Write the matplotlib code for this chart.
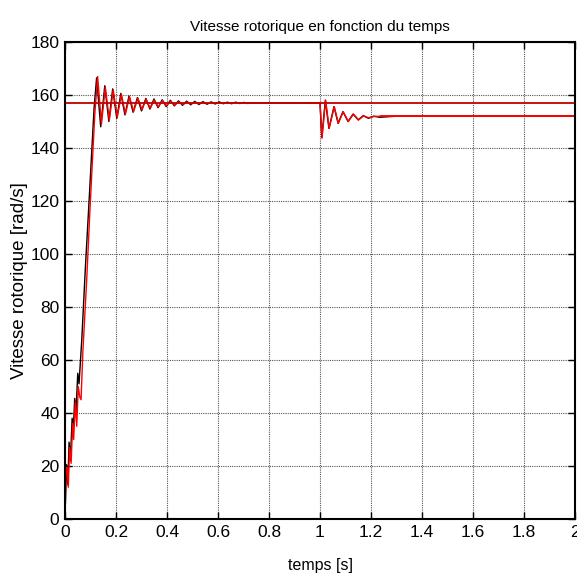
import matplotlib
matplotlib.use('Agg')
import numpy as np
import matplotlib.pyplot as plt

# speed reference and load-step plateau
w_ref = 157.0
w_load = 152.0

# measured rotor speed (black), read peak by peak from the plot
t_black = [0.000, 0.006, 0.011, 0.016, 0.021, 0.028, 0.032, 0.038, 0.043, 0.050, 0.055,
           0.066, 0.080, 0.095, 0.105, 0.114, 0.124, 0.140, 0.156, 0.172, 0.187, 0.203,
           0.219, 0.235, 0.251, 0.267, 0.284, 0.300, 0.317, 0.333, 0.349, 0.365, 0.381,
           0.397, 0.413, 0.429, 0.445, 0.461, 0.477, 0.493, 0.509, 0.525, 0.541, 0.557,
           0.573, 0.589, 0.605, 0.621, 0.637, 0.653, 0.669, 0.685, 0.701, 0.717, 0.733,
           0.750, 0.850, 1.000, 1.007, 1.021, 1.035, 1.055, 1.071, 1.090, 1.110, 1.130,
           1.150, 1.170, 1.190, 1.210, 1.235, 1.300, 2.000]
w_black = [1.0, 20.5, 13.0, 29.0, 22.0, 38.0, 32.0, 45.5, 40.0, 55.0, 51.0,
           68.0, 95.0, 121.0, 139.0, 155.0, 166.5, 148.0, 163.5, 150.0, 162.3, 151.2,
           160.6, 152.5, 159.6, 153.5, 159.0, 154.0, 158.7, 154.7, 158.5, 155.2, 158.2,
           155.6, 158.0, 155.9, 157.8, 156.1, 157.7, 156.3, 157.6, 156.4, 157.5, 156.5,
           157.4, 156.6, 157.4, 156.7, 157.3, 156.7, 157.3, 156.8, 157.2, 156.8, 157.1,
           157.0, 157.0, 157.0, 144.0, 158.0, 147.4, 155.6, 149.3, 153.7, 150.0, 152.8,
           150.6, 152.2, 151.2, 152.0, 151.6, 152.0, 152.0]

# estimated rotor speed (red)
t_red = [0.000, 0.004, 0.008, 0.013, 0.018, 0.024, 0.030, 0.034, 0.040, 0.046, 0.052,
         0.058, 0.063, 0.070, 0.085, 0.098, 0.108, 0.117, 0.128, 0.143, 0.158, 0.174,
         0.189, 0.205, 0.221, 0.237, 0.253, 0.269, 0.286, 0.302, 0.318, 0.334, 0.350,
         0.366, 0.382, 0.398, 0.414, 0.430, 0.446, 0.462, 0.478, 0.494, 0.510, 0.526,
         0.542, 0.558, 0.574, 0.590, 0.606, 0.622, 0.640, 0.700, 1.000, 1.008, 1.022,
         1.036, 1.056, 1.072, 1.091, 1.111, 1.131, 1.151, 1.171, 1.191, 1.211, 1.240,
         2.000]
w_red = [0.0, 18.0, 19.5, 12.0, 27.0, 21.0, 36.0, 30.0, 44.0, 35.0, 50.0,
         46.0, 45.0, 63.0, 90.0, 117.0, 136.0, 153.0, 167.0, 149.0, 163.0, 150.5,
         162.0, 151.5, 160.3, 152.8, 159.4, 153.8, 158.8, 154.4, 158.4, 155.0, 158.1,
         155.5, 157.9, 155.9, 157.7, 156.2, 157.5, 156.4, 157.4, 156.6, 157.3, 156.7,
         157.2, 156.8, 157.2, 156.9, 157.1, 156.9, 157.0, 157.0, 157.0, 143.7, 158.1,
         147.4, 155.6, 149.3, 153.7, 150.0, 152.8, 150.6, 152.1, 151.4, 151.9, 152.0,
         152.0]

plt.rcParams['font.family'] = ['Liberation Sans', 'DejaVu Sans']

fig = plt.figure(figsize=(5.77, 5.78), dpi=100)
ax = fig.add_axes([65 / 577, 1 - 519 / 578, 510 / 577, 477 / 578])

ax.plot(t_black, w_black, color='k', lw=1.0)
ax.plot(t_red, w_red, color='#ff0000', lw=1.0)
ax.plot([0, 2], [w_ref, w_ref], color='#c00000', lw=1.3)
ax.plot([1.24, 2], [w_load, w_load], color='#ff0000', lw=1.3)

ax.set_xlim(0, 2)
ax.set_ylim(0, 180)
ax.set_xticks(np.arange(0, 2.01, 0.2))
ax.set_xticklabels(['0', '0.2', '0.4', '0.6', '0.8', '1', '1.2', '1.4', '1.6', '1.8', '2'])
ax.set_yticks(np.arange(0, 181, 20))
ax.grid(True, color='#555555', linestyle=(0, (1, 1)), linewidth=0.8)
ax.tick_params(direction='in', top=True, right=True, length=5, width=1, pad=4,
               labelsize=12.5)
for s in ax.spines.values():
    s.set_linewidth(1.5)

ax.set_title('Vitesse rotorique en fonction du temps', fontsize=11, pad=8)
ax.set_xlabel('temps [s]', fontsize=11.5, labelpad=13)
ax.set_ylabel('Vitesse rotorique [rad/s]', fontsize=13.5, labelpad=2)

fig.savefig('out.png', dpi=100)
